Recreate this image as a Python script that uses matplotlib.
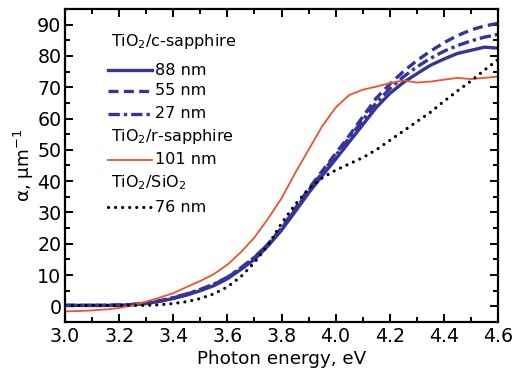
import matplotlib
matplotlib.use('Agg')
import matplotlib.pyplot as plt
from matplotlib.ticker import MultipleLocator, FormatStrFormatter

plt.rcParams['font.family'] = ['DejaVu Sans']
plt.rcParams['mathtext.default'] = 'regular'

# photon energy grid, eV
energy = [3.00, 3.05, 3.10, 3.15, 3.20, 3.25, 3.30, 3.35, 3.40, 3.45, 3.50,
          3.55, 3.60, 3.65, 3.70, 3.75, 3.80, 3.85, 3.90, 3.95, 4.00, 4.05,
          4.10, 4.15, 4.20, 4.25, 4.30, 4.35, 4.40, 4.45, 4.50, 4.55, 4.60]

# TiO2 / c-sapphire
c88 = [0.3, 0.3, 0.3, 0.3, 0.4, 0.5, 0.9, 1.6, 2.5, 3.6, 5.0,
       6.6, 8.8, 11.8, 15.0, 19.3, 24.3, 30.2, 36.2, 41.7, 47.0, 52.5,
       58.0, 63.5, 68.0, 71.5, 74.3, 77.0, 79.0, 80.8, 81.8, 82.8, 82.5]
c55 = [0.3, 0.3, 0.3, 0.3, 0.4, 0.6, 1.0, 1.7, 2.7, 3.9, 5.3,
       7.0, 9.2, 12.2, 15.6, 19.9, 25.0, 31.2, 37.5, 43.2, 48.8, 54.5,
       60.5, 66.5, 71.0, 75.0, 78.5, 81.5, 84.2, 86.5, 88.3, 89.6, 90.4]
c27 = [0.3, 0.3, 0.3, 0.3, 0.4, 0.6, 1.0, 1.8, 2.8, 4.0, 5.4,
       7.1, 9.3, 12.3, 15.7, 19.8, 24.8, 30.8, 37.0, 42.6, 48.2, 53.8,
       59.5, 65.0, 69.5, 73.3, 76.5, 79.2, 81.5, 83.3, 84.8, 86.0, 86.9]
# TiO2 / r-sapphire
r101 = [-1.6, -1.5, -1.3, -1.0, -0.5, 0.3, 1.5, 2.8, 4.2, 6.2, 8.1,
        10.3, 13.3, 17.3, 22.0, 28.0, 34.5, 42.5, 50.0, 57.5, 63.5, 67.5,
        69.2, 70.2, 71.3, 72.2, 71.5, 71.8, 72.4, 73.0, 72.6, 73.0, 73.4]
# TiO2 / SiO2
s76 = [0.3, 0.3, 0.3, 0.3, 0.3, 0.3, 0.3, 0.5, 0.9, 1.5, 2.5,
       4.0, 6.2, 9.5, 14.0, 19.5, 26.5, 32.5, 37.5, 41.0, 43.5, 45.5,
       47.5, 50.0, 53.0, 56.0, 59.0, 62.0, 65.5, 68.8, 72.0, 75.5, 78.8]

NAVY = '#34349a'
RED = '#f2512a'

fig = plt.figure(figsize=(5.13, 3.79), dpi=100)
ax = fig.add_axes([0.1267, 0.1504, 0.8441, 0.8259])

styles = [
    (c88, dict(color=NAVY, lw=2.4, ls='-')),
    (c55, dict(color=NAVY, lw=2.4, ls=(0, (3, 1.6)))),
    (c27, dict(color=NAVY, lw=2.4, ls=(0, (3.4, 1.2, 1, 1.2)))),
    (r101, dict(color=RED, lw=1.3, ls='-')),
    (s76, dict(color='black', lw=2.3, ls=(0, (0.01, 2.2)), dash_capstyle='round')),
]
for ys, kw in styles:
    ax.plot(energy, ys, **kw)

ax.set_xlim(3.0, 4.6)
ax.set_ylim(-5, 95)
ax.xaxis.set_major_locator(MultipleLocator(0.2))
ax.xaxis.set_minor_locator(MultipleLocator(0.1))
ax.yaxis.set_major_locator(MultipleLocator(10))
ax.yaxis.set_minor_locator(MultipleLocator(5))
ax.xaxis.set_major_formatter(FormatStrFormatter('%.1f'))
ax.tick_params(which='both', direction='in', top=True, right=True,
               labelsize=13.7, width=1.4)
ax.tick_params(which='major', length=6)
ax.tick_params(which='minor', length=3.5)
ax.tick_params(axis='y', pad=2.5)
for s in ax.spines.values():
    s.set_linewidth(1.6)

ax.set_xlabel('Photon energy, eV', fontsize=13.2, labelpad=3)
ax.set_ylabel('α, μm$^{-1}$', fontsize=13.2, labelpad=1)

# manual legend in axes coords
x0, x1, xt = 0.099, 0.201, 0.208
rows = [
    ('header', 'TiO$_2$/c-sapphire', 0.895, None),
    ('line', '88 nm', 0.805, styles[0][1]),
    ('line', '55 nm', 0.738, styles[1][1]),
    ('line', '27 nm', 0.665, styles[2][1]),
    ('header', 'TiO$_2$/r-sapphire', 0.594, None),
    ('line', '101 nm', 0.518, styles[3][1]),
    ('header', 'TiO$_2$/SiO$_2$', 0.444, None),
    ('line', '76 nm', 0.367, styles[4][1]),
]
for kind, txt, y, kw in rows:
    if kind == 'header':
        ax.text(x0 + 0.008, y, txt, transform=ax.transAxes, fontsize=11.5,
                va='center', ha='left')
    else:
        ax.plot([x0, x1], [y, y], transform=ax.transAxes, **kw)
        ax.text(xt, y, txt, transform=ax.transAxes, fontsize=11.5,
                va='center', ha='left')

fig.savefig('out.png', dpi=100)
